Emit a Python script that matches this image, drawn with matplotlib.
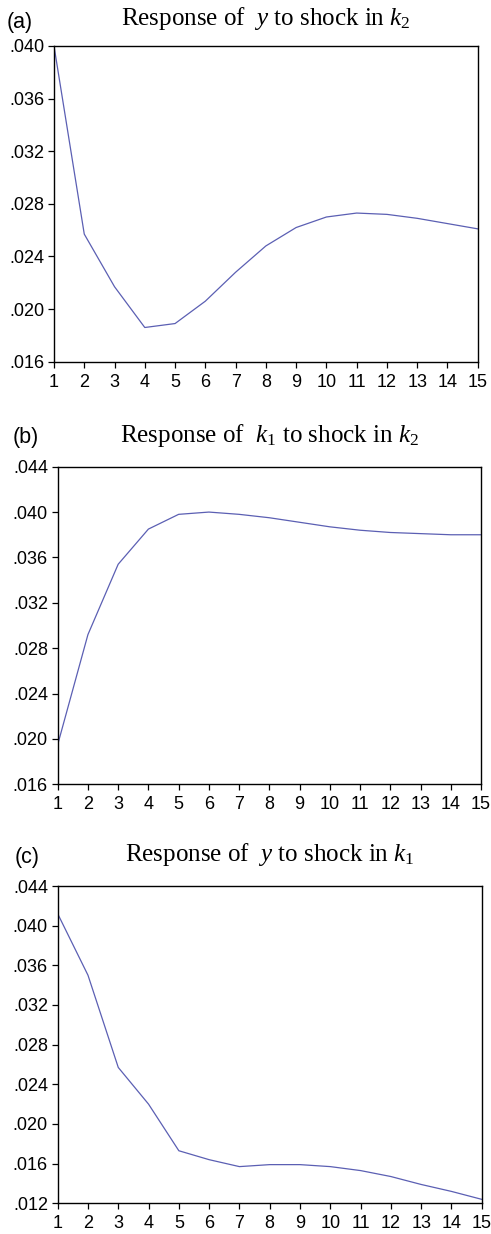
import matplotlib
matplotlib.use("Agg")
import matplotlib.pyplot as plt
from matplotlib.ticker import FuncFormatter

# impulse responses, periods 1..15
periods = list(range(1, 16))
y_to_k2 = [0.0400, 0.0257, 0.0217, 0.0186, 0.0189, 0.0206, 0.0228, 0.0248,
           0.0262, 0.0270, 0.0273, 0.0272, 0.0269, 0.0265, 0.0261]
k1_to_k2 = [0.0195, 0.0292, 0.0354, 0.0385, 0.0398, 0.0400, 0.0398, 0.0395,
            0.0391, 0.0387, 0.0384, 0.0382, 0.0381, 0.0380, 0.0380]
y_to_k1 = [0.0412, 0.0350, 0.0257, 0.0220, 0.0173, 0.0164, 0.0157, 0.0159,
           0.0159, 0.0157, 0.0153, 0.0147, 0.0139, 0.0132, 0.0124]

titles = [r"Response of  $y$ to shock in $k_2$",
          r"Response of  $k_\mathit{1}$ to shock in $k_2$",
          r"Response of  $y$ to shock in $k_\mathit{1}$"]
panel_tags = ["(a)", "(b)", "(c)"]
y_limits = [(0.016, 0.040), (0.016, 0.044), (0.012, 0.044)]

plt.rcParams["mathtext.fontset"] = "custom"
plt.rcParams["mathtext.rm"] = "Liberation Serif"
plt.rcParams["mathtext.it"] = "Liberation Serif:italic"

W, H = 491, 1234
fig = plt.figure(figsize=(W / 100, H / 100), dpi=100)

# axes boxes in pixels: left, top, right, bottom
boxes = [(54, 46, 477.7, 361.7),
         (57.7, 466.7, 481, 784.3),
         (57.7, 886, 481.7, 1203.3)]
title_gap = [20.5, 25, 25]
tag_pos = [(7, 28), (13, 443), (15, 863)]

line_color = "#5b5fb3"


def fmt(v, pos):
    return ("%.3f" % v).lstrip("0")


for i in range(3):
    l, t, r, b = boxes[i]
    ax = fig.add_axes([l / W, 1 - b / H, (r - l) / W, (b - t) / H])
    ax.plot(periods, [y_to_k2, k1_to_k2, y_to_k1][i], color=line_color, lw=0.9)
    ax.set_xlim(1, 15)
    ax.set_ylim(*y_limits[i])
    lo, hi = y_limits[i]
    n = int(round((hi - lo) / 0.004))
    ax.set_yticks([lo + 0.004 * k for k in range(n + 1)])
    ax.set_xticks(periods)
    ax.yaxis.set_major_formatter(FuncFormatter(fmt))
    ax.tick_params(direction="out", length=4, width=0.9, labelsize=13,
                   top=False, right=False)
    ax.tick_params(axis="y", pad=3)
    ax.tick_params(axis="x", pad=4.5)
    for lab in ax.get_xticklabels() + ax.get_yticklabels():
        lab.set_family("Liberation Sans")
    for s in ax.spines.values():
        s.set_linewidth(1.0)
    gap = title_gap[i] / (b - t)
    ax.text(0.5, 1 + gap, titles[i], transform=ax.transAxes, ha="center",
            va="baseline", fontsize=18, family="Liberation Serif")
    tx, ty = tag_pos[i]
    fig.text(tx / W, 1 - ty / H, panel_tags[i], ha="left", va="baseline",
             fontsize=15.5, family="Liberation Sans")

fig.savefig("out.png", dpi=100)
